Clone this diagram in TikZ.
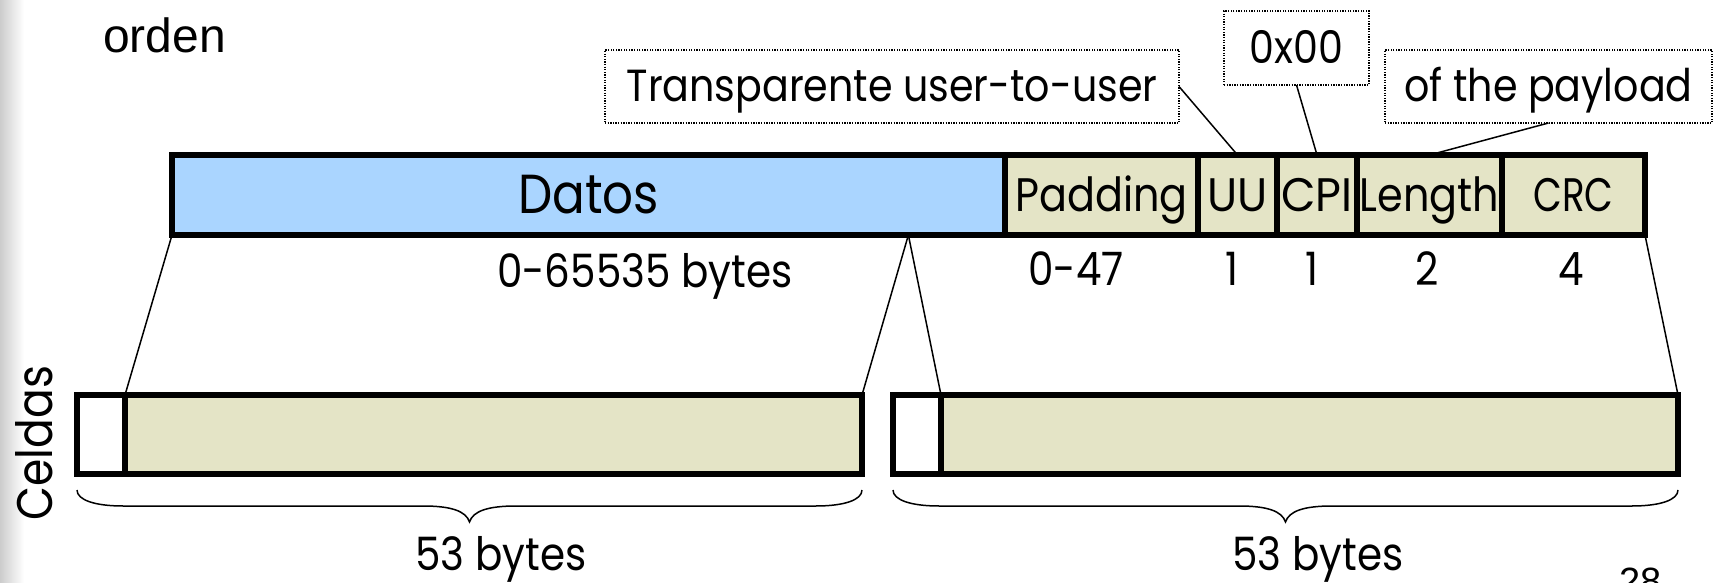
\documentclass[tikz,border=0pt]{standalone}
\usepackage{fontspec}
\setmainfont{Liberation Sans}
\newfontfamily\comicfont[FakeStretch=0.88]{Poppins}
\usetikzlibrary{calc}
\definecolor{datablue}{RGB}{170,213,255}
\definecolor{celltan}{RGB}{228,228,198}

\begin{document}
\begin{tikzpicture}[x=1pt,y=-1pt,
  field/.style={draw, line width=5.5pt, inner sep=0pt, outer sep=0pt,
    anchor=north west, minimum height=80pt, text height=33pt, text depth=0pt,
    font=\comicfont\fontsize{47}{52}\selectfont},
  bigfield/.style={field, text height=38pt, font=\comicfont\fontsize{55}{60}\selectfont},
  cellbox/.style={draw, line width=5.5pt, inner sep=0pt, outer sep=0pt,
    anchor=north west, minimum height=79pt},
  note/.style={draw, line width=1.3pt, dash pattern=on 1.3pt off 1.3pt,
    inner sep=0pt, outer sep=0pt, text height=31pt, text depth=0pt,
    font=\comicfont\fontsize{45}{50}\selectfont},
  size/.style={inner sep=0pt, anchor=base, font=\comicfont\fontsize{46}{50}\selectfont},
  link/.style={line width=1.5pt},
  brace line/.style={line width=1.5pt},
  pics/cellbrace/.style={code={
    \draw[brace line] (0,16) .. controls (0,26) and (18,32) .. (46,32)
      -- (346,32) .. controls (374,32) and (389,37) .. (392.5,48)
      .. controls (396,37) and (411,32) .. (439,32)
      -- (739,32) .. controls (767,32) and (785,26) .. (785,16);
  }}
]
\useasboundingbox (0,0) rectangle (1717,583);
\fill[white] (0,0) rectangle (1717,583);
\shade[left color=black!20, right color=white] (0,0) rectangle (24,583);

% text left over from the slide above
\node[anchor=base west, inner sep=0pt, font=\fontsize{48}{56}\selectfont] (orden) at (103,53) {orden};
\node[anchor=base west, inner sep=0pt, font=\fontsize{38}{44}\selectfont] (page) at (1619,594) {28};

% AAL5 CPCS-PDU
\node[bigfield, fill=datablue, minimum width=833pt] (datos) at (172,155) {Datos};
\node[field, fill=celltan, minimum width=193pt] (pad) at (datos.north east) {Padding};
\node[field, fill=celltan, minimum width=79pt] (uu) at (pad.north east) {\scalebox{1.08}[1]{UU}};
\node[field, fill=celltan, minimum width=80pt] (cpi) at (uu.north east) {\scalebox{1.08}[1]{CPI}};
\node[field, fill=celltan, minimum width=145pt] (len) at (cpi.north east) {Length};
\node[field, fill=celltan, minimum width=143pt] (crc) at (len.north east) {\scalebox{0.9}[1]{CRC}};

% field sizes
\node[size] (sdatos) at (645,287) {0-65535 bytes};
\node[size] (spad) at (1076,285) {0-47};
\node[size] (suu) at (1232,285) {1};
\node[size] (scpi) at (1312,285) {1};
\node[size] (slen) at (1427,285) {2};
\node[size] (scrc) at (1571,285) {4};

% callouts
\node[note, minimum width=574pt, minimum height=73pt] (tr) at (892,86.5) {Transparente user-to-user};
\node[note, minimum width=145pt, minimum height=74pt] (zero) at (1296.5,48) {0x00};
\node[note, minimum width=327pt, minimum height=73pt] (pay) at (1548.5,86.5) {of the payload};
\draw[link] (tr.east) -- (uu.north);
\draw[link] (zero.south) -- (cpi.north);
\draw[link] (pay.south) -- (len.north);

% cells
\node[cellbox, fill=white, minimum width=48pt] (h1) at (77,395) {};
\node[cellbox, fill=celltan, minimum width=737pt] (b1) at (h1.north east) {};
\node[cellbox, fill=white, minimum width=48pt] (h2) at (893,395) {};
\node[cellbox, fill=celltan, minimum width=737pt] (b2) at (h2.north east) {};

\coordinate (cut) at ($(datos.south west)!0.884!(datos.south east)$);
\draw[link] (datos.south west) -- (b1.north west);
\draw[link] (cut) -- (b1.north east);
\draw[link] (cut) -- (b2.north west);
\draw[link] (crc.south east) -- (b2.north east);

\node[inner sep=0pt, anchor=base, rotate=90, font=\comicfont\fontsize{50}{56}\selectfont] (celdas) at (52,443) {Celdas};

% 53-byte braces
\pic at (h1.south west) {cellbrace};
\pic at (h2.south west) {cellbrace};
\node[size] (c1) at (501,570) {53 bytes};
\node[size] (c2) at (1318,570) {53 bytes};
\end{tikzpicture}
\end{document}
